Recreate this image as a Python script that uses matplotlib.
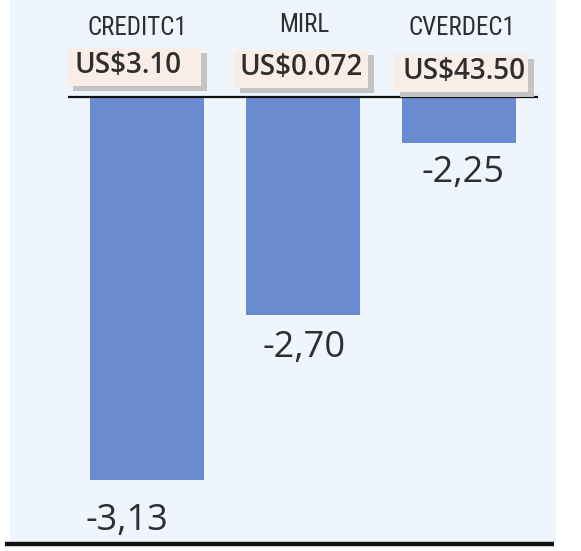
import matplotlib.pyplot as plt
from matplotlib.patches import Rectangle
from matplotlib import font_manager

# Data
tickers = ['CREDITC1', 'MIRL', 'CVERDEC1']
prices = ['US$3.10', 'US$0.072', 'US$43.50']
changes = [-3.13, -2.70, -2.25]

# Layout (pixels) - the original is hand placed, so small per-item nudges
FIG_W, FIG_H = 581, 551
XLIM = (-0.94, 2.78)
YLIM = (-3.315, -1.877)
BASE = -2.13                      # value axis starts here, not at zero
ticker_dx = [-9, 1, 3]
ticker_dy = [69, 72, 69]
box_dx = [-13, -2, 2]
box_dy = [0, -2, -6]
price_dx = [-6, 0, 3]
label_dx = [-20, 1, 4]
label_gap = [23, 15, 12]

BG = '#eef5fd'
BAR = '#6a8bd0'
TEXT = '#2e2e2e'
BOX = '#f8eee7'
SHADOW = '#c4c4c4'


def px(dx, dy):
    """Convert a pixel offset to data units."""
    sx = FIG_W / (XLIM[1] - XLIM[0])
    sy = FIG_H / (YLIM[1] - YLIM[0])
    return dx / sx, dy / sy


def narrow_family():
    """Pick a condensed family if one is installed."""
    names = {f.name for f in font_manager.fontManager.ttflist}
    for name in ['Liberation Sans Narrow', 'DejaVu Sans Condensed', 'Roboto Condensed']:
        if name in names:
            return name
    return 'DejaVu Sans'


def draw_chart():
    fig = plt.figure(figsize=(FIG_W / 100, FIG_H / 100), dpi=100)
    fig.patch.set_facecolor('white')
    ax = fig.add_axes([0, 0, 1, 1])
    ax.set_xlim(*XLIM)
    ax.set_ylim(*YLIM)
    ax.axis('off')

    # light blue panel
    x0, _ = px(10, 0)
    w, h = px(546, 542)
    ax.add_patch(Rectangle((XLIM[0] + x0, YLIM[1] - h), w, h,
                           facecolor=BG, edgecolor='none', zorder=0))

    x = list(range(len(changes)))
    heights = [c - BASE for c in changes]
    ax.bar(x, heights, bottom=BASE, width=0.73, color=BAR, zorder=2)

    # baseline and bottom rule
    lx0, _ = px(68, 0)
    lx1, _ = px(538, 0)
    ax.plot([XLIM[0] + lx0, XLIM[0] + lx1], [BASE, BASE],
            color='#111111', lw=1.6, zorder=3, solid_capstyle='butt')
    bx0, _ = px(5, 0)
    bx1, _ = px(554, 0)
    _, by = px(0, 544)
    ax.plot([XLIM[0] + bx0, XLIM[0] + bx1], [YLIM[1] - by] * 2,
            color='#111111', lw=3.2, zorder=3, solid_capstyle='butt')

    narrow = narrow_family()
    bw, bh = px(134, 38)
    sdx, sdy = px(6, 5)
    for i, (tk, pr, ch) in enumerate(zip(tickers, prices, changes)):
        # ticker name
        tdx, tdy = px(ticker_dx[i], ticker_dy[i])
        ax.text(i + tdx, BASE + tdy, tk, ha='center', va='center',
                fontsize=18, color=TEXT, family=narrow, stretch='condensed',
                zorder=5)

        # price box with shadow
        cdx, _ = px(box_dx[i], 0)
        _, top = px(0, 11 + box_dy[i])
        left = i + cdx - bw / 2
        bottom = BASE + top
        ax.add_patch(Rectangle((left + sdx, bottom - sdy), bw, bh,
                               facecolor=SHADOW, edgecolor='none', zorder=3))
        ax.add_patch(Rectangle((left, bottom), bw, bh,
                               facecolor=BOX, edgecolor='none', zorder=4))
        pdx, up = px(price_dx[i], 1)
        ax.text(i + cdx + pdx, bottom + bh / 2 + up, pr, ha='center', va='center',
                fontsize=20, fontweight='semibold', color=TEXT,
                family=['Open Sans', 'DejaVu Sans'], zorder=5)

        # value under the bar
        vdx, vdy = px(label_dx[i], label_gap[i])
        ax.text(i + vdx, ch - vdy, f'{ch:.2f}'.replace('.', ','),
                ha='center', va='top', fontsize=26, color=TEXT,
                family=['Open Sans', 'DejaVu Sans'], zorder=5)

    fig.savefig('out.png', dpi=100, facecolor='white')


if __name__ == "__main__":
    draw_chart()
